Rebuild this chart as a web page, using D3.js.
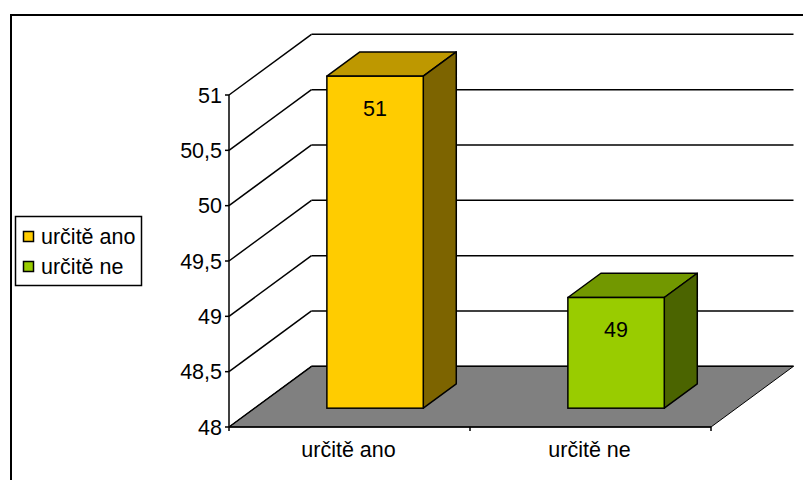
<!DOCTYPE html>
<html>
<head>
<meta charset="utf-8">
<script src="https://cdn.jsdelivr.net/npm/d3@7"></script>
<style>
  body { margin: 0; background: #fff; }
  svg { display: block; font-family: "Liberation Sans", Arial, sans-serif; }
</style>
</head>
<body>
<svg id="chart" width="803" height="480"></svg>
<script>
// data
const categories = ["určitě ano", "určitě ne"];
const values = [51, 49];
const yTicks = [48, 48.5, 49, 49.5, 50, 50.5, 51];
const frontColors = ["#FFCC00", "#99CC00"];

const width = 803, height = 480;
const plot = {left: 229, right: 711, top: 95, bottom: 427};
// perspective offset of the full floor depth
const DX = 82.5, DY = -60.7;
// bar sits between these depth fractions
const f0 = 0.31, f1 = 0.71;
const fontSize = 21.5;

const svg = d3.select("#chart");

// outer chart border (runs off the picture at right and bottom)
svg.append("rect")
    .attr("x", 11).attr("y", 15)
    .attr("width", 900).attr("height", 600)
    .attr("fill", "#fff")
    .attr("stroke", "#000")
    .attr("stroke-width", 2);

const y = d3.scaleLinear().domain([48, 51]).range([plot.bottom, plot.top]);
const x = d3.scaleBand().domain(categories).range([plot.left, plot.right]);
const fmt = d => String(d).replace(".", ",");

// floor
const floorY = y(48);
svg.append("polygon")
    .attr("points", [
        [plot.left, floorY], [plot.right, floorY],
        [plot.right + DX, floorY + DY], [plot.left + DX, floorY + DY]
    ].map(p => p.join(",")).join(" "))
    .attr("fill", "#808080")
    .attr("stroke", "#000")
    .attr("stroke-width", 1);

// back wall gridlines + side wall diagonals
const grid = svg.append("g").attr("stroke", "#000").attr("stroke-width", 1.5).attr("fill", "none");
grid.selectAll(".back")
    .data(yTicks)
    .join("line")
    .attr("x1", plot.left + DX).attr("x2", plot.right + DX)
    .attr("y1", d => y(d) + DY).attr("y2", d => y(d) + DY);
grid.selectAll(".side")
    .data(yTicks)
    .join("line")
    .attr("x1", plot.left).attr("x2", plot.left + DX)
    .attr("y1", d => y(d)).attr("y2", d => y(d) + DY);

// value axis (front)
const yAxis = svg.append("g");
yAxis.append("line")
    .attr("x1", plot.left).attr("x2", plot.left)
    .attr("y1", y(51)).attr("y2", y(48))
    .attr("stroke", "#000").attr("stroke-width", 1.5);
yAxis.selectAll(".tick")
    .data(yTicks)
    .join("line")
    .attr("x1", plot.left - 4).attr("x2", plot.left)
    .attr("y1", d => y(d)).attr("y2", d => y(d))
    .attr("stroke", "#000").attr("stroke-width", 1.5);
yAxis.selectAll("text")
    .data(yTicks)
    .join("text")
    .attr("x", plot.left - 7)
    .attr("y", d => y(d))
    .attr("dy", "0.36em")
    .attr("text-anchor", "end")
    .attr("font-size", fontSize)
    .text(fmt);

// bars
const bw = x.bandwidth();
const bars = svg.append("g").selectAll("g")
    .data(categories.map((c, i) => ({c, v: values[i], color: frontColors[i]})))
    .join("g");

function geom(d) {
    const x0 = x(d.c) + bw * 0.3, x1 = x0 + bw * 0.4;
    const yt = y(d.v), yb = y(48);
    return {x0, x1, yt, yb};
}
const pts = arr => arr.map(p => p.join(",")).join(" ");

bars.append("polygon") // top
    .attr("points", d => {
        const g = geom(d);
        return pts([[g.x0 + f0 * DX, g.yt + f0 * DY], [g.x1 + f0 * DX, g.yt + f0 * DY],
                    [g.x1 + f1 * DX, g.yt + f1 * DY], [g.x0 + f1 * DX, g.yt + f1 * DY]]);
    })
    .attr("fill", d => d3.color(d.color).darker(0.83))
    .attr("stroke", "#000").attr("stroke-width", 1.5).attr("stroke-linejoin", "round");
bars.append("polygon") // side
    .attr("points", d => {
        const g = geom(d);
        return pts([[g.x1 + f0 * DX, g.yt + f0 * DY], [g.x1 + f1 * DX, g.yt + f1 * DY],
                    [g.x1 + f1 * DX, g.yb + f1 * DY], [g.x1 + f0 * DX, g.yb + f0 * DY]]);
    })
    .attr("fill", d => d3.color(d.color).darker(2))
    .attr("stroke", "#000").attr("stroke-width", 1.5).attr("stroke-linejoin", "round");
bars.append("rect") // front
    .attr("x", d => geom(d).x0 + f0 * DX)
    .attr("y", d => geom(d).yt + f0 * DY)
    .attr("width", bw * 0.4)
    .attr("height", d => geom(d).yb - geom(d).yt)
    .attr("fill", d => d.color)
    .attr("stroke", "#000").attr("stroke-width", 1.5);
bars.append("text")
    .attr("x", d => (geom(d).x0 + geom(d).x1) / 2 + f0 * DX)
    .attr("y", d => geom(d).yt + f0 * DY + 32)
    .attr("dy", "0.36em")
    .attr("text-anchor", "middle")
    .attr("font-size", fontSize)
    .text(d => d.v);

// category axis
const xAxis = svg.append("g");
xAxis.append("line")
    .attr("x1", plot.left).attr("x2", plot.right)
    .attr("y1", floorY).attr("y2", floorY)
    .attr("stroke", "#000").attr("stroke-width", 1.5);
xAxis.selectAll(".tick")
    .data([...categories.map(c => x(c)), plot.right])
    .join("line")
    .attr("x1", d => d).attr("x2", d => d)
    .attr("y1", floorY).attr("y2", floorY + 4)
    .attr("stroke", "#000").attr("stroke-width", 1.5);
xAxis.selectAll("text")
    .data(categories)
    .join("text")
    .attr("x", d => x(d) + bw / 2 - 1)
    .attr("y", 457)
    .attr("text-anchor", "middle")
    .attr("font-size", fontSize)
    .text(d => d);

// legend
const legend = svg.append("g");
legend.append("rect")
    .attr("x", 15.5).attr("y", 216.5)
    .attr("width", 126).attr("height", 69)
    .attr("fill", "#fff").attr("stroke", "#000").attr("stroke-width", 1.5);
const items = legend.selectAll(".item")
    .data(categories.map((c, i) => ({c, color: frontColors[i]})))
    .join("g")
    .attr("transform", (d, i) => `translate(0, ${236.5 + i * 30})`);
items.append("rect")
    .attr("x", 23.5).attr("y", -5)
    .attr("width", 10).attr("height", 10)
    .attr("fill", d => d.color)
    .attr("stroke", "#000").attr("stroke-width", 1.5);
items.append("text")
    .attr("x", 41)
    .attr("dy", "0.36em")
    .attr("font-size", fontSize)
    .text(d => d.c);
</script>
</body>
</html>
